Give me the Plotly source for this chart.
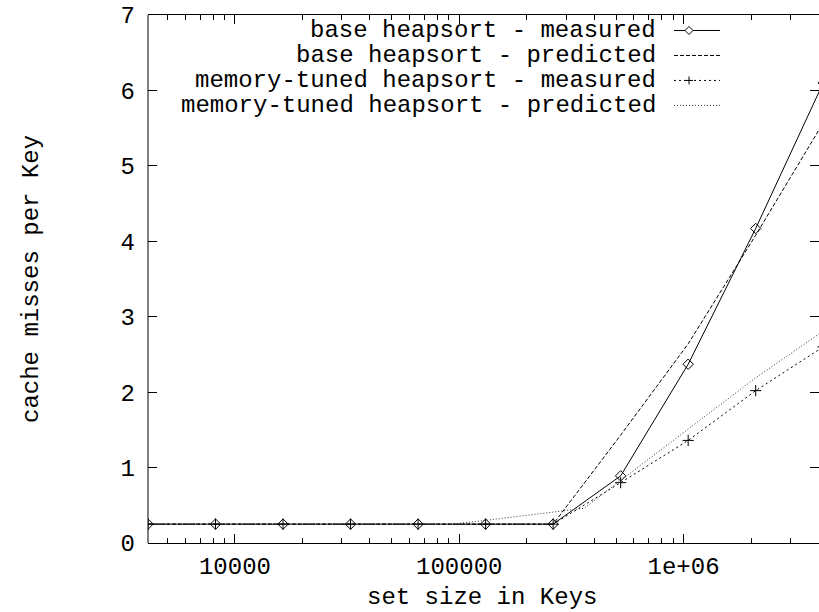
import math
import plotly.graph_objects as go

# ---- data ----
set_size = [4096, 8192, 16384, 32768, 65536, 131072, 262144, 524288, 1048576, 2097152, 4194304]
base_measured = [0.25, 0.25, 0.25, 0.25, 0.25, 0.25, 0.25, 0.89, 2.37, 4.17, 6.10]
base_predicted = [0.25, 0.25, 0.25, 0.25, 0.25, 0.25, 0.25, 1.43, 2.64, 4.08, 5.57]
mt_measured = [0.25, 0.25, 0.25, 0.25, 0.25, 0.25, 0.25, 0.80, 1.36, 2.02, 2.60]
mt_pred_size = [4096, 8192, 16384, 32768, 65536, 92000, 131072, 262144, 360000, 1048576, 2097152, 4194304]
mt_predicted = [0.25, 0.25, 0.25, 0.25, 0.25, 0.25, 0.30, 0.41, 0.46, 1.51, 2.19, 2.81]

series_names = [
    "base heapsort - measured",
    "base heapsort - predicted",
    "memory-tuned heapsort - measured",
    "memory-tuned heapsort - predicted",
]
x_tickvals = [1e4, 1e5, 1e6]
x_ticktext = ["10000", "100000", "1e+06"]
y_tickvals = [0, 1, 2, 3, 4, 5, 6, 7]

FONT = "Liberation Mono, Courier New, monospace"
FS = 24

W, H = 819, 612
ML, MT, MB, MR = 148, 15, 68.5, 0
PW = W - ML - MR
PH = H - MT - MB
DECADE = 224.3
x_lo = math.log10(4096)
x_hi = x_lo + PW / DECADE

dashes = ["solid", "4px,2px", "2px,3px", "1px,2px"]

fig = go.Figure()
fig.add_trace(go.Scatter(x=set_size, y=base_measured, mode="lines+markers",
                         line=dict(color="black", width=1, dash=dashes[0]),
                         marker=dict(symbol="diamond-open", size=8, color="black", line=dict(width=1)),
                         name=series_names[0], showlegend=False, cliponaxis=True))
fig.add_trace(go.Scatter(x=set_size, y=base_predicted, mode="lines",
                         line=dict(color="black", width=1, dash=dashes[1]),
                         name=series_names[1], showlegend=False))
fig.add_trace(go.Scatter(x=set_size, y=mt_measured, mode="lines+markers",
                         line=dict(color="black", width=1, dash=dashes[2]),
                         marker=dict(symbol="cross-thin-open", size=8, color="black", line=dict(width=1, color="black")),
                         name=series_names[2], showlegend=False, cliponaxis=True))
fig.add_trace(go.Scatter(x=mt_pred_size, y=mt_predicted, mode="lines",
                         line=dict(color="#333333", width=1, dash=dashes[3]),
                         name=series_names[3], showlegend=False))

minor_vals = [k * 10 ** d for d in range(3, 7) for k in range(2, 10)]

fig.update_layout(
    width=W, height=H,
    margin=dict(l=ML, r=MR, t=MT, b=MB, pad=0),
    paper_bgcolor="white", plot_bgcolor="white",
    font=dict(family=FONT, size=FS, color="black"),
    xaxis=dict(type="log", range=[x_lo, x_hi], tickmode="array",
               tickvals=x_tickvals, ticktext=x_ticktext,
               ticks="inside", ticklen=9, tickwidth=1, tickcolor="black",
               showline=True, linecolor="black", linewidth=1, mirror="ticks",
               showgrid=False, zeroline=False, ticklabelstandoff=1,
               minor=dict(tickmode="array", tickvals=minor_vals, ticks="inside",
                          ticklen=5, tickwidth=1, tickcolor="black", showgrid=False),
               tickfont=dict(family=FONT, size=FS)),
    yaxis=dict(range=[0, 7], tickmode="array", tickvals=y_tickvals,
               ticks="inside", ticklen=9, tickwidth=1, tickcolor="black",
               showline=False, mirror="ticks",
               showgrid=False, zeroline=False, ticklabelstandoff=12,
               tickfont=dict(family=FONT, size=FS)),
)

shapes = []
# left frame line
shapes.append(dict(type="line", xref="paper", yref="paper", x0=0, x1=0, y0=0, y1=1,
                   line=dict(color="black", width=1)))

annotations = []
annotations.append(dict(text="set size in Keys", xref="paper", yref="paper",
                        x=(482 - ML) / PW, y=(H - MB - 598) / PH, xanchor="center", yanchor="middle",
                        showarrow=False, font=dict(family=FONT, size=FS)))
annotations.append(dict(text="cache misses per Key", xref="paper", yref="paper",
                        x=(31 - ML) / PW, y=0.5, xanchor="center", yanchor="middle", textangle=-90,
                        showarrow=False, font=dict(family=FONT, size=FS)))

# custom legend (gnuplot style: text right-aligned, sample on the right)
rows_py = [30.5, 55.5, 80.5, 105.5]
text_right = (658 - ML) / PW
ls_x0 = (674 - ML) / PW
ls_x1 = (720 - ML) / PW
mk_x = (689 - ML) / PW
for i, name in enumerate(series_names):
    yp = (H - MB - rows_py[i]) / PH
    annotations.append(dict(text=name, xref="paper", yref="paper", x=text_right, y=yp,
                            xanchor="right", yanchor="middle", showarrow=False,
                            font=dict(family=FONT, size=FS)))
    col = "#333333" if i == 3 else "black"
    shapes.append(dict(type="line", xref="paper", yref="paper", x0=ls_x0, x1=ls_x1, y0=yp, y1=yp,
                       line=dict(color=col, width=1, dash=dashes[i])))
    if i == 0:
        shapes.append(dict(type="path", xref="paper", yref="paper", xsizemode="pixel", ysizemode="pixel",
                           xanchor=mk_x, yanchor=yp,
                           path="M -4 0 L 0 4 L 4 0 L 0 -4 Z",
                           fillcolor="white", line=dict(color="black", width=1)))
    if i == 2:
        shapes.append(dict(type="path", xref="paper", yref="paper", xsizemode="pixel", ysizemode="pixel",
                           xanchor=mk_x, yanchor=yp,
                           path="M -4 0 L 4 0 M 0 -4 L 0 4",
                           line=dict(color="black", width=1)))

fig.update_layout(shapes=shapes, annotations=annotations)

fig.write_html("out.html")
